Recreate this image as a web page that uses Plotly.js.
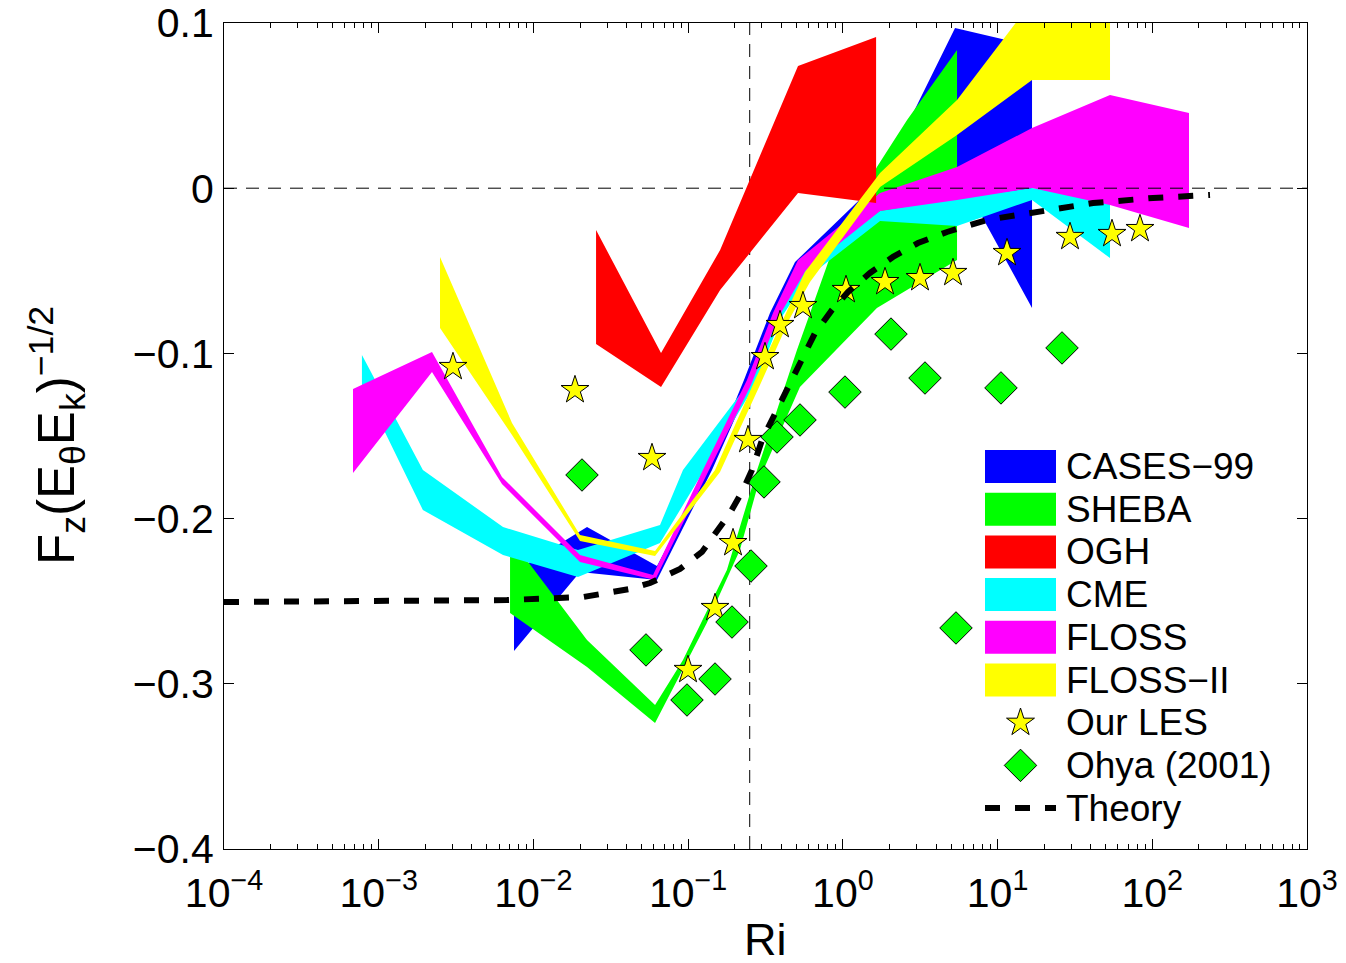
<!DOCTYPE html>
<html>
<head>
<meta charset="utf-8">
<script src="https://cdn.plot.ly/plotly-3.0.1.min.js"></script>
<style>
  html, body { margin: 0; padding: 0; background: #ffffff; }
  #chart { width: 1346px; height: 963px; }
</style>
</head>
<body>
<div id="chart"></div>
<script>
// ---- Field campaign bands: upper and lower edges of each envelope ----
// CASES-99
const casesRiUp = [0.00749, 0.0222, 0.0629, 0.1285, 0.2296, 0.338, 0.4906, 1.739, 5.31, 16.7];
const casesFUp  = [-0.2323, -0.2051, -0.2287, -0.1736, -0.1161, -0.0755, -0.0447, 0.0050, 0.0970, 0.0861];
const casesRiLo = [0.00749, 0.0200, 0.0629, 0.1426, 0.2587, 0.3808, 0.586, 0.826, 5.47, 16.7];
const casesFLo  = [-0.2801, -0.2323, -0.2372, -0.1706, -0.1161, -0.0786, -0.0525, -0.0423, 0.0104, -0.0725];

// SHEBA
const shebaRiUp = [0.00706, 0.0222, 0.0611, 0.0926, 0.178, 0.279, 0.505, 0.826, 1.66, 2.60, 5.47];
const shebaFUp  = [-0.2117, -0.2735, -0.3128, -0.2856, -0.2311, -0.1706, -0.0979, -0.0416, 0.0128, 0.0413, 0.0837];
const shebaRiLo = [0.00706, 0.0222, 0.0611, 0.132, 0.216, 0.291, 0.528, 1.66, 5.47];
const shebaFLo  = [-0.2571, -0.2898, -0.3237, -0.2632, -0.2190, -0.1754, -0.1203, -0.0725, -0.0435];

// OGH
const oghRi  = [0.0254, 0.0668, 0.161, 0.513, 1.64];
const oghFUp = [-0.0253, -0.0998, -0.0374, 0.0740, 0.0915];
const oghFLo = [-0.0943, -0.1203, -0.0616, -0.0029, -0.0090];

// CME
const cmeRiUp = [0.000779, 0.00193, 0.00636, 0.0194, 0.0658, 0.0926, 0.2548, 0.3752, 0.5444, 1.74, 5.47, 16.7, 53.3];
const cmeFUp  = [-0.1010, -0.1706, -0.2051, -0.2190, -0.2039, -0.1706, -0.1161, -0.0755, -0.0465, -0.0138, -0.0059, 0.0001, -0.0071];
const cmeRiLo = [0.000779, 0.00193, 0.00636, 0.0194, 0.0658, 0.1247, 0.2705, 0.3983, 0.5953, 1.74, 5.47, 16.7, 53.3];
const cmeFLo  = [-0.1191, -0.1948, -0.2220, -0.2354, -0.2148, -0.1718, -0.1191, -0.0786, -0.0538, -0.0199, -0.0229, -0.0071, -0.0423];

// FLOSS
const flossRiUp = [0.000682, 0.00221, 0.00626, 0.0200, 0.0593, 0.1247, 0.2401, 0.3535, 0.513, 1.74, 5.47, 16.7, 53.3, 172.7];
const flossFUp  = [-0.1215, -0.0992, -0.1748, -0.2220, -0.2341, -0.1706, -0.1161, -0.0755, -0.0435, -0.0029, 0.0128, 0.0364, 0.0564, 0.0455];
const flossRiLo = [0.000682, 0.00221, 0.00626, 0.0200, 0.0611, 0.1344, 0.2548, 0.3808, 0.578, 1.74, 5.47, 16.7, 53.3, 172.7];
const flossFLo  = [-0.1724, -0.1113, -0.1791, -0.2263, -0.2372, -0.1718, -0.1191, -0.0786, -0.0495, -0.0138, -0.0071, 0.0001, -0.0102, -0.0241];

// FLOSS-II
const floss2RiUp = [0.00249, 0.00727, 0.0200, 0.0611, 0.1492, 0.2705, 0.4291, 0.5691, 1.74, 5.47, 16.7, 53.3];
const floss2FUp  = [-0.0416, -0.1421, -0.2099, -0.2196, -0.1706, -0.1161, -0.0755, -0.0507, 0.0092, 0.0534, 0.113, 0.120];
const floss2RiLo = [0.00249, 0.00727, 0.0200, 0.0611, 0.1607, 0.2913, 0.4554, 0.6133, 1.74, 5.47, 16.7, 53.3];
const floss2FLo  = [-0.0846, -0.1494, -0.2136, -0.2226, -0.1718, -0.1191, -0.0786, -0.0568, 0.0007, 0.0322, 0.0655, 0.0655];

// ---- Our LES ----
const lesRi = [0.00302, 0.01856, 0.0584, 0.0998, 0.1492, 0.1950, 0.2437, 0.3139, 0.3925, 0.5525, 1.048, 1.873, 3.152, 5.151, 11.51, 29.39, 54.91, 83.27];
const lesF  = [-0.1082, -0.1222, -0.1633, -0.2916, -0.2541, -0.2148, -0.1524, -0.1022, -0.0828, -0.0713, -0.0616, -0.0568, -0.0544, -0.0513, -0.0392, -0.0295, -0.0277, -0.0247];

// ---- Ohya (2001) ----
const ohyaRi = [0.0206, 0.0534, 0.0983, 0.1492, 0.1921, 0.2548, 0.3092, 0.3752, 0.5284, 1.032, 2.047, 3.395, 5.386, 10.52, 26.09];
const ohyaF  = [-0.1736, -0.2795, -0.3098, -0.2971, -0.2626, -0.2287, -0.1778, -0.1506, -0.1403, -0.1234, -0.0883, -0.1149, -0.2662, -0.1209, -0.0967];

// ---- Theory curve ----
const theoryRi = [0.0001, 0.000652, 0.00289, 0.00675, 0.0209, 0.0421, 0.0567, 0.0886, 0.1229, 0.1492, 0.1865, 0.2262, 0.2587, 0.3002, 0.3641, 0.4355, 0.5444, 0.6606, 0.8507, 1.080, 1.497, 2.109, 3.060, 4.711, 8.546, 17.46, 41.40, 101.1, 236.1];
const theoryF  = [-0.2505, -0.2502, -0.2496, -0.2493, -0.2475, -0.2426, -0.2390, -0.2305, -0.2202, -0.2099, -0.1966, -0.1827, -0.1706, -0.1524, -0.1361, -0.1222, -0.1022, -0.0877, -0.0737, -0.0628, -0.0513, -0.0416, -0.0332, -0.0265, -0.0192, -0.0144, -0.0090, -0.0059, -0.0041];

// Reference lines
const RI_CRITICAL = 0.25;
const RI_RANGE = [1e-4, 1e3];
const F_RANGE = [-0.4, 0.1];

// Labels
const bandNames = ['CASES−99', 'SHEBA', 'OGH', 'CME', 'FLOSS', 'FLOSS−II'];
const bandColors = ['#0000ff', '#00ff00', '#ff0000', '#00ffff', '#ff00ff', '#ffff00'];
const lesName = 'Our LES';
const ohyaName = 'Ohya (2001)';
const theoryName = 'Theory';
const xTickExp = [-4, -3, -2, -1, 0, 1, 2, 3];

// ---------------------------------------------------------------
const FONT = 'Liberation Sans, Arial, Helvetica, sans-serif';

function band(riUp, fUp, riLo, fLo, color, name) {
  return {
    type: 'scatter', mode: 'lines', name: name,
    x: riUp.concat(riLo.slice().reverse()),
    y: fUp.concat(fLo.slice().reverse()),
    fill: 'toself', fillcolor: color,
    line: { width: 0, color: color },
    hoverinfo: 'skip'
  };
}

const refDash = { color: '#000', width: 1, dash: '13px,9px' };

// drawing order: critical-Ri line, bands, F = 0 line, OGH and FLOSS-II bands, markers, theory
const traces = [
  { type: 'scatter', mode: 'lines', x: [RI_CRITICAL, RI_CRITICAL], y: F_RANGE, line: refDash, hoverinfo: 'skip' },
  band(casesRiUp, casesFUp, casesRiLo, casesFLo, bandColors[0], bandNames[0]),
  band(shebaRiUp, shebaFUp, shebaRiLo, shebaFLo, bandColors[1], bandNames[1]),
  band(cmeRiUp, cmeFUp, cmeRiLo, cmeFLo, bandColors[3], bandNames[3]),
  band(flossRiUp, flossFUp, flossRiLo, flossFLo, bandColors[4], bandNames[4]),
  { type: 'scatter', mode: 'lines', x: RI_RANGE, y: [0, 0], line: refDash, hoverinfo: 'skip' },
  band(oghRi, oghFUp, oghRi, oghFLo, bandColors[2], bandNames[2]),
  band(floss2RiUp, floss2FUp, floss2RiLo, floss2FLo, bandColors[5], bandNames[5]),
  {
    type: 'scatter', mode: 'markers', name: lesName, x: lesRi, y: lesF,
    marker: { symbol: 'star', size: 21, color: '#ffff00', line: { color: '#000', width: 1 } },
    hoverinfo: 'skip'
  },
  {
    type: 'scatter', mode: 'markers', name: ohyaName, x: ohyaRi, y: ohyaF,
    marker: { symbol: 'diamond', size: 25, color: '#00ff00', line: { color: '#000', width: 1 } },
    hoverinfo: 'skip'
  },
  {
    type: 'scatter', mode: 'lines', name: theoryName, x: theoryRi, y: theoryF,
    line: { color: '#000', width: 6, dash: '15px,15px' }, hoverinfo: 'skip'
  }
];

// ---- axis ticks ----
const majorVals = xTickExp.map(e => Math.pow(10, e));
const majorText = xTickExp.map(e => '10<sup>' + (e < 0 ? '−' + (-e) : e) + '</sup>');
const minorVals = [];
for (let e = -4; e < 3; e++) {
  for (let m = 2; m <= 9; m++) minorVals.push(m * Math.pow(10, e));
}

// ---- hand-built legend (plot-area fractions) ----
const PL = 224, PR = 1307, PT = 23, PB = 849;
const fx = px => (px - PL) / (PR - PL);
const fy = py => (PB - py) / (PB - PT);

const legendKeyX0 = 985, legendKeyX1 = 1056, legendTextX = 1064;
const legendRow0 = 466.5, legendPitch = 42.7, swatchHalf = 16.5;

const shapes = [];
const annotations = [];
const legendRowY = i => legendRow0 + legendPitch * i;

bandNames.forEach((nm, i) => {
  const cy = legendRowY(i);
  shapes.push({
    type: 'rect', xref: 'paper', yref: 'paper',
    x0: fx(legendKeyX0), x1: fx(legendKeyX1),
    y0: fy(cy + swatchHalf), y1: fy(cy - swatchHalf),
    fillcolor: bandColors[i], line: { width: 0 }
  });
});
shapes.push({
  type: 'line', xref: 'paper', yref: 'paper',
  x0: fx(legendKeyX0), x1: fx(legendKeyX1),
  y0: fy(legendRowY(8)), y1: fy(legendRowY(8)),
  line: { color: '#000', width: 6, dash: '15px,15px' }
});

const legendLabels = bandNames.concat([lesName, ohyaName, theoryName]);
legendLabels.forEach((nm, i) => {
  annotations.push({
    xref: 'paper', yref: 'paper', x: fx(legendTextX), y: fy(legendRowY(i)),
    xanchor: 'left', yanchor: 'middle', showarrow: false, text: nm,
    font: { family: FONT, size: 37, color: '#000' }
  });
});

// legend marker keys drawn on an overlay axis spanning the plot area
const keyX = (legendKeyX0 + legendKeyX1) / 2;
traces.push({
  type: 'scatter', mode: 'markers', xaxis: 'x2', yaxis: 'y2',
  x: [fx(keyX)], y: [fy(legendRowY(6))],
  marker: { symbol: 'star', size: 21, color: '#ffff00', line: { color: '#000', width: 1 } },
  hoverinfo: 'skip'
});
traces.push({
  type: 'scatter', mode: 'markers', xaxis: 'x2', yaxis: 'y2',
  x: [fx(keyX)], y: [fy(legendRowY(7))],
  marker: { symbol: 'diamond', size: 25, color: '#00ff00', line: { color: '#000', width: 1 } },
  hoverinfo: 'skip'
});

// axis titles
annotations.push({
  xref: 'paper', yref: 'paper', x: fx(57), y: 0.5,
  xanchor: 'center', yanchor: 'middle', textangle: -90, showarrow: false,
  text: 'F<sub>z</sub>(E<sub>θ</sub>E<sub>k</sub>)<sup>−1/2</sup>',
  font: { family: FONT, size: 51, color: '#000' }
});
annotations.push({
  xref: 'paper', yref: 'paper', x: 0.5, y: fy(939),
  xanchor: 'center', yanchor: 'middle', showarrow: false,
  text: 'Ri',
  font: { family: FONT, size: 45, color: '#000' }
});

const axisCommon = {
  showline: true, linecolor: '#000', linewidth: 1, mirror: 'ticks',
  ticks: 'inside', ticklen: 10, tickwidth: 1, tickcolor: '#000',
  showgrid: false, zeroline: false,
  tickfont: { family: FONT, size: 41, color: '#000' }
};

const layout = {
  width: 1346, height: 963,
  margin: { l: PL, r: 1346 - PR, t: PT, b: 963 - PB, pad: 0 },
  paper_bgcolor: '#ffffff', plot_bgcolor: '#ffffff',
  showlegend: false,
  font: { family: FONT, color: '#000', size: 41 },
  xaxis: Object.assign({}, axisCommon, {
    type: 'log', range: [Math.log10(RI_RANGE[0]), Math.log10(RI_RANGE[1])],
    tickmode: 'array', tickvals: majorVals, ticktext: majorText,
    ticklabelstandoff: 8,
    minor: { tickmode: 'array', tickvals: minorVals, ticks: 'inside', ticklen: 5, tickwidth: 1, tickcolor: '#000', showgrid: false }
  }),
  yaxis: Object.assign({}, axisCommon, {
    range: F_RANGE, tick0: 0, dtick: 0.1,
    ticklabelstandoff: 1
  }),
  xaxis2: { overlaying: 'x', range: [0, 1], visible: false, showgrid: false, zeroline: false },
  yaxis2: { overlaying: 'y', range: [0, 1], visible: false, showgrid: false, zeroline: false },
  shapes: shapes,
  annotations: annotations
};

Plotly.newPlot('chart', traces, layout, { staticPlot: true, displayModeBar: false });
</script>
</body>
</html>
